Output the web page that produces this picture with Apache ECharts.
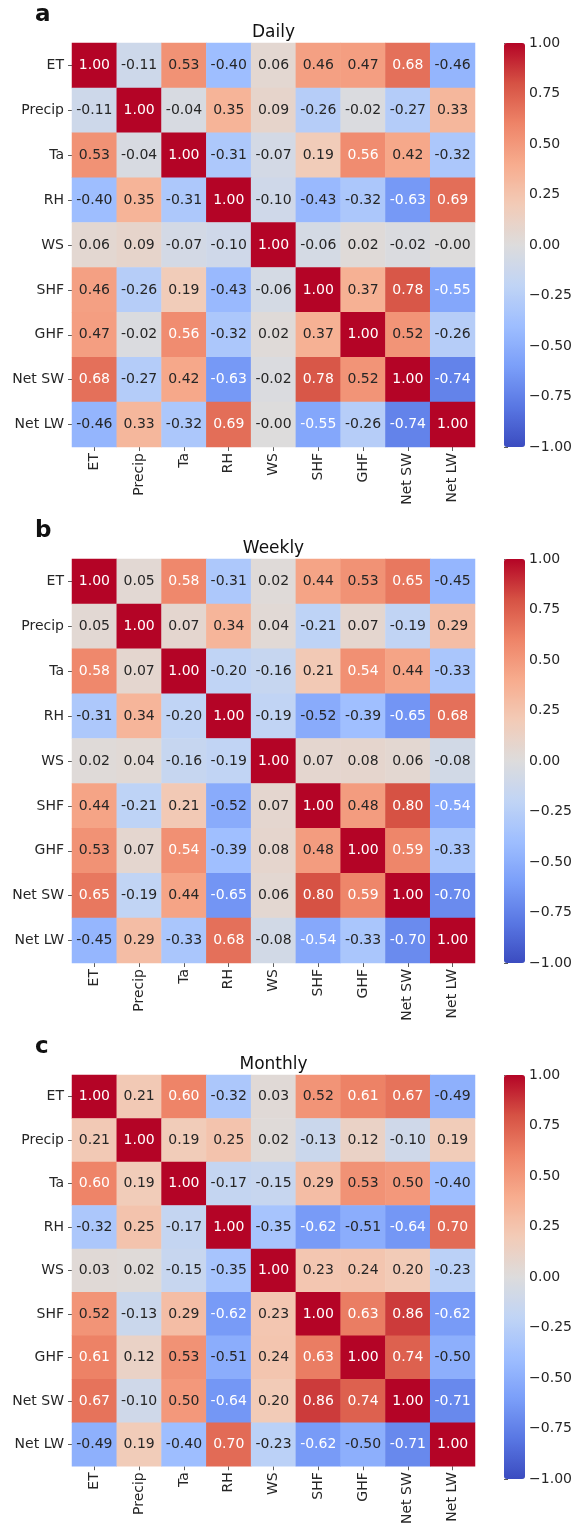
<!DOCTYPE html>
<html>
<head>
<meta charset="utf-8">
<script src="https://cdn.jsdelivr.net/npm/echarts@6/dist/echarts.min.js"></script>
<style>
  html, body { margin: 0; padding: 0; background: #ffffff; }
  #chart { width: 575px; height: 1527px; }
</style>
</head>
<body>
<div id="chart"></div>
<script>
// Variables, in row/column order of each correlation matrix
const variables = ['ET', 'Precip', 'Ta', 'RH', 'WS', 'SHF', 'GHF', 'Net SW', 'Net LW'];

// Pearson correlations at the daily time scale
const dailyCorr = [
  [ 1.00, -0.11,  0.53, -0.40,  0.06,  0.46,  0.47,  0.68, -0.46],
  [-0.11,  1.00, -0.04,  0.35,  0.09, -0.26, -0.02, -0.27,  0.33],
  [ 0.53, -0.04,  1.00, -0.31, -0.07,  0.19,  0.56,  0.42, -0.32],
  [-0.40,  0.35, -0.31,  1.00, -0.10, -0.43, -0.32, -0.63,  0.69],
  [ 0.06,  0.09, -0.07, -0.10,  1.00, -0.06,  0.02, -0.02, -0.001],
  [ 0.46, -0.26,  0.19, -0.43, -0.06,  1.00,  0.37,  0.78, -0.55],
  [ 0.47, -0.02,  0.56, -0.32,  0.02,  0.37,  1.00,  0.52, -0.26],
  [ 0.68, -0.27,  0.42, -0.63, -0.02,  0.78,  0.52,  1.00, -0.74],
  [-0.46,  0.33, -0.32,  0.69, -0.001, -0.55, -0.26, -0.74,  1.00]
];

// Weekly time scale
const weeklyCorr = [
  [ 1.00,  0.05,  0.58, -0.31,  0.02,  0.44,  0.53,  0.65, -0.45],
  [ 0.05,  1.00,  0.07,  0.34,  0.04, -0.21,  0.07, -0.19,  0.29],
  [ 0.58,  0.07,  1.00, -0.20, -0.16,  0.21,  0.54,  0.44, -0.33],
  [-0.31,  0.34, -0.20,  1.00, -0.19, -0.52, -0.39, -0.65,  0.68],
  [ 0.02,  0.04, -0.16, -0.19,  1.00,  0.07,  0.08,  0.06, -0.08],
  [ 0.44, -0.21,  0.21, -0.52,  0.07,  1.00,  0.48,  0.80, -0.54],
  [ 0.53,  0.07,  0.54, -0.39,  0.08,  0.48,  1.00,  0.59, -0.33],
  [ 0.65, -0.19,  0.44, -0.65,  0.06,  0.80,  0.59,  1.00, -0.70],
  [-0.45,  0.29, -0.33,  0.68, -0.08, -0.54, -0.33, -0.70,  1.00]
];

// Monthly time scale
const monthlyCorr = [
  [ 1.00,  0.21,  0.60, -0.32,  0.03,  0.52,  0.61,  0.67, -0.49],
  [ 0.21,  1.00,  0.19,  0.25,  0.02, -0.13,  0.12, -0.10,  0.19],
  [ 0.60,  0.19,  1.00, -0.17, -0.15,  0.29,  0.53,  0.50, -0.40],
  [-0.32,  0.25, -0.17,  1.00, -0.35, -0.62, -0.51, -0.64,  0.70],
  [ 0.03,  0.02, -0.15, -0.35,  1.00,  0.23,  0.24,  0.20, -0.23],
  [ 0.52, -0.13,  0.29, -0.62,  0.23,  1.00,  0.63,  0.86, -0.62],
  [ 0.61,  0.12,  0.53, -0.51,  0.24,  0.63,  1.00,  0.74, -0.50],
  [ 0.67, -0.10,  0.50, -0.64,  0.20,  0.86,  0.74,  1.00, -0.71],
  [-0.49,  0.19, -0.40,  0.70, -0.23, -0.62, -0.50, -0.71,  1.00]
];

const panelLetters = ['a', 'b', 'c'];
const panelTitles = ['Daily', 'Weekly', 'Monthly'];
const colorbarTicks = [-1.00, -0.75, -0.50, -0.25, 0.00, 0.25, 0.50, 0.75, 1.00];

// Diverging "coolwarm" colour ramp, evenly spaced from -1 to 1
const coolwarm = ['#3b4cc0', '#5977e3', '#7b9ff9', '#9ebeff', '#c0d4f5', '#dddcdc',
                  '#f2cbb7', '#f7ac8e', '#ee8468', '#d65244', '#b40426'];

const matrices = [dailyCorr, weeklyCorr, monthlyCorr];
const FONT = '"DejaVu Sans", "Liberation Sans", sans-serif';
const TEXT = '#262626';

// Layout
const gridLeft = 72, gridWidth = 403, gridHeight = 404;
const panelTops = [43, 559, 1075];
const cbarLeft = 504, cbarWidth = 21;

function hexToRgb(h) {
  return [parseInt(h.slice(1, 3), 16), parseInt(h.slice(3, 5), 16), parseInt(h.slice(5, 7), 16)];
}
// Same linear interpolation the visual map uses; only needed to choose label contrast
function rampColor(v) {
  const t = Math.max(0, Math.min(1, (v + 1) / 2)) * (coolwarm.length - 1);
  const i = Math.min(Math.floor(t), coolwarm.length - 2);
  const f = t - i;
  const a = hexToRgb(coolwarm[i]), b = hexToRgb(coolwarm[i + 1]);
  return a.map((c, k) => c + (b[k] - c) * f);
}
function luminance(rgb) {
  const lin = rgb.map(c => {
    c /= 255;
    return c <= 0.03928 ? c / 12.92 : Math.pow((c + 0.055) / 1.055, 2.4);
  });
  return 0.2126 * lin[0] + 0.7152 * lin[1] + 0.0722 * lin[2];
}
function cellText(v) {
  const s = Math.abs(v).toFixed(2);
  return (v < 0 ? '-' : '') + s;
}
function tickText(v) {
  return (v < 0 ? '\u2212' : '') + Math.abs(v).toFixed(2);
}

const grids = [], xAxes = [], yAxes = [], series = [], visualMaps = [], graphics = [];

matrices.forEach((m, p) => {
  const top = panelTops[p];

  // heatmap grid
  grids.push({ left: gridLeft, top: top, width: gridWidth, height: gridHeight, containLabel: false });
  xAxes.push({
    type: 'category', gridIndex: 2 * p, data: variables, position: 'bottom',
    axisLine: { show: false },
    axisTick: { show: true, alignWithLabel: true, length: 4, lineStyle: { color: '#333', width: 0.8 } },
    axisLabel: { rotate: 90, margin: 6, fontSize: 14, color: TEXT, fontFamily: FONT, interval: 0 },
    splitLine: { show: false }
  });
  yAxes.push({
    type: 'category', gridIndex: 2 * p, data: variables, inverse: true,
    axisLine: { show: false },
    axisTick: { show: true, alignWithLabel: true, length: 4, lineStyle: { color: '#333', width: 0.8 } },
    axisLabel: { margin: 8, fontSize: 14, color: TEXT, fontFamily: FONT, interval: 0 },
    splitLine: { show: false }
  });

  // colour bar scale grid
  grids.push({ left: cbarLeft, top: top, width: cbarWidth, height: gridHeight, containLabel: false });
  xAxes.push({ type: 'value', gridIndex: 2 * p + 1, show: false });
  yAxes.push({
    type: 'value', gridIndex: 2 * p + 1, min: -1, max: 1, interval: 0.25, position: 'right',
    axisLine: { show: false },
    axisTick: { show: true, length: 4, lineStyle: { color: '#333', width: 0.8 } },
    axisLabel: { margin: 5, fontSize: 14, color: TEXT, fontFamily: FONT, formatter: tickText },
    splitLine: { show: false }
  });

  const data = [];
  m.forEach((row, r) => {
    row.forEach((v, c) => {
      const dark = luminance(rampColor(v)) > 0.403;
      data.push({ value: [c, r, v], label: { color: dark ? TEXT : '#ffffff' } });
    });
  });
  series.push({
    type: 'heatmap', xAxisIndex: 2 * p, yAxisIndex: 2 * p, data: data,
    label: { show: true, fontSize: 14, fontFamily: FONT, formatter: prm => cellText(prm.value[2]) },
    itemStyle: { borderWidth: 0 },
    emphasis: { disabled: true },
    silent: true
  });

  visualMaps.push({
    type: 'continuous', seriesIndex: p, min: -1, max: 1, dimension: 2,
    calculable: false, orient: 'vertical', left: cbarLeft, top: top,
    itemWidth: cbarWidth, itemHeight: gridHeight, padding: 0,
    text: null, showLabel: false, hoverLink: false,
    inRange: { color: coolwarm }
  });

  graphics.push({
    type: 'text', left: 35, top: top - 39,
    style: { text: panelLetters[p], font: 'bold 23px ' + FONT, fill: '#111' }
  });
  graphics.push({
    type: 'text', x: gridLeft + gridWidth / 2, y: top - 2,
    style: { text: panelTitles[p], font: '17px ' + FONT, fill: '#111', textAlign: 'center', textVerticalAlign: 'bottom' }
  });
});

const chart = echarts.init(document.getElementById('chart'), null, { renderer: 'canvas' });
chart.setOption({
  animation: false,
  backgroundColor: '#ffffff',
  grid: grids,
  xAxis: xAxes,
  yAxis: yAxes,
  visualMap: visualMaps,
  series: series,
  graphic: graphics
});
</script>
</body>
</html>
